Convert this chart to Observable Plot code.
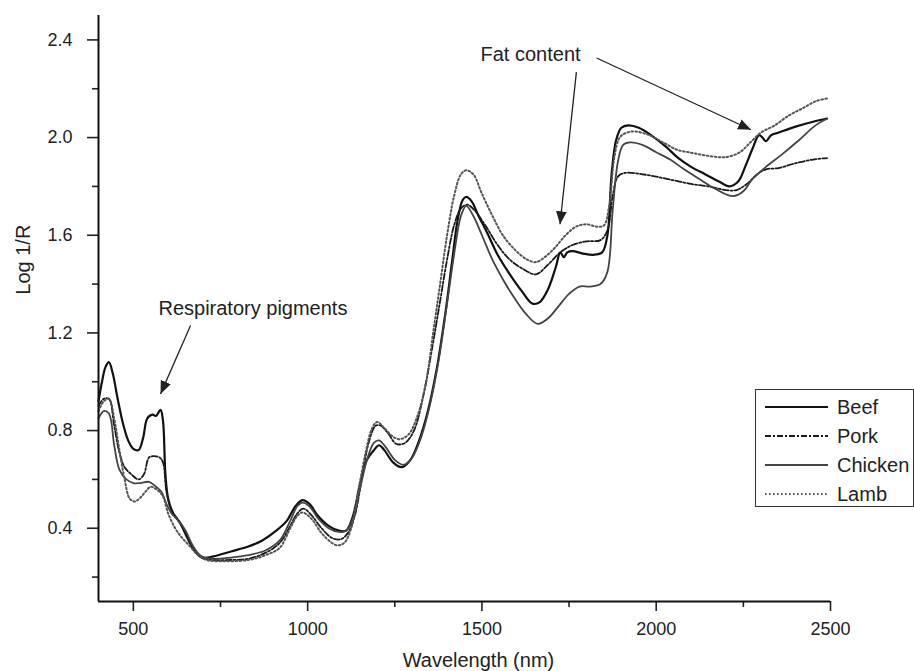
<!DOCTYPE html>
<html>
<head>
<meta charset="utf-8">
<script src="https://cdn.jsdelivr.net/npm/d3@7"></script>
<script src="https://cdn.jsdelivr.net/npm/@observablehq/plot@0.6"></script>
<style>
  body { margin: 0; background: #fff; }
  #chart { position: relative; width: 914px; height: 671px; font-family: "Liberation Sans", Arial, sans-serif; }
  #legend { position: absolute; left: 755px; top: 389px; width: 159px; height: 118px;
            border: 1px solid #333; box-sizing: border-box; background: #fff; }
  .row { position: absolute; left: 0; height: 24px; display: flex; align-items: center; }
  .row svg { margin-left: 9px; }
  .row span { margin-left: 9px; font-size: 20px; color: #222; }
</style>
</head>
<body>
<div id="chart"><div id="legend"></div></div>
<script>
// NIR spectra of four meats: [wavelength (nm), log 1/R]
const beef = [
  [400,0.92],[410,1.00],[420,1.06],[430,1.08],[440,1.04],[455,0.93],[470,0.83],[485,0.76],
  [500,0.725],[515,0.72],[528,0.77],[540,0.85],[555,0.865],[565,0.86],[578,0.885],[585,0.84],
  [592,0.62],[600,0.52],[615,0.46],[635,0.42],[655,0.36],[675,0.31],[700,0.28],[730,0.285],
  [780,0.305],[830,0.325],[870,0.35],[910,0.39],[940,0.43],[965,0.49],[985,0.515],[1005,0.50],
  [1030,0.45],[1060,0.41],[1090,0.39],[1110,0.39],[1130,0.45],[1150,0.58],[1170,0.68],[1190,0.72],
  [1205,0.74],[1220,0.72],[1245,0.67],[1270,0.65],[1295,0.68],[1320,0.76],[1345,0.88],[1370,1.05],
  [1395,1.28],[1415,1.50],[1430,1.66],[1445,1.745],[1455,1.757],[1470,1.74],[1490,1.68],[1515,1.61],
  [1545,1.52],[1580,1.44],[1615,1.37],[1645,1.32],[1665,1.325],[1690,1.38],[1712,1.47],[1725,1.53],
  [1735,1.51],[1745,1.53],[1760,1.535],[1790,1.525],[1820,1.52],[1845,1.53],[1860,1.60],[1872,1.85],
  [1885,1.99],[1900,2.04],[1920,2.05],[1950,2.04],[1990,2.005],[2030,1.96],[2060,1.92],[2100,1.88],
  [2140,1.85],[2180,1.82],[2210,1.80],[2235,1.82],[2255,1.88],[2275,1.95],[2295,2.01],[2305,2.00],
  [2315,1.985],[2330,2.01],[2350,2.02],[2400,2.045],[2450,2.065],[2490,2.078]
];
const pork = [
  [400,0.90],[415,0.93],[430,0.93],[445,0.82],[460,0.71],[475,0.65],[495,0.62],[515,0.60],
  [530,0.62],[545,0.69],[560,0.695],[575,0.69],[585,0.67],[595,0.55],[610,0.47],[630,0.43],
  [650,0.38],[670,0.32],[695,0.28],[730,0.27],[780,0.27],[830,0.275],[880,0.30],[920,0.34],
  [950,0.41],[970,0.46],[988,0.48],[1010,0.455],[1040,0.40],[1070,0.36],[1095,0.355],[1115,0.38],
  [1135,0.45],[1155,0.60],[1175,0.75],[1195,0.82],[1210,0.82],[1230,0.79],[1255,0.745],[1280,0.75],
  [1305,0.80],[1330,0.93],[1355,1.12],[1380,1.33],[1400,1.50],[1420,1.64],[1440,1.71],[1458,1.725],
  [1480,1.70],[1510,1.64],[1545,1.56],[1580,1.50],[1620,1.46],[1655,1.44],[1690,1.48],[1725,1.53],
  [1760,1.56],[1800,1.575],[1840,1.58],[1860,1.62],[1875,1.76],[1890,1.84],[1910,1.855],[1950,1.852],
  [2000,1.84],[2050,1.825],[2100,1.81],[2150,1.80],[2200,1.785],[2230,1.785],[2260,1.81],[2290,1.85],
  [2315,1.87],[2350,1.875],[2400,1.895],[2450,1.91],[2490,1.916]
];
const chicken = [
  [400,0.85],[415,0.88],[430,0.87],[445,0.74],[460,0.64],[480,0.60],[500,0.585],[520,0.585],
  [545,0.59],[565,0.57],[580,0.55],[595,0.50],[610,0.46],[630,0.43],[650,0.39],[670,0.33],
  [695,0.285],[730,0.275],[780,0.28],[830,0.29],[880,0.31],[920,0.35],[950,0.43],[970,0.49],
  [985,0.505],[1005,0.49],[1030,0.44],[1060,0.40],[1090,0.385],[1110,0.39],[1130,0.44],[1150,0.56],
  [1170,0.68],[1190,0.75],[1205,0.76],[1225,0.73],[1250,0.68],[1275,0.66],[1300,0.69],[1325,0.77],
  [1350,0.90],[1375,1.08],[1400,1.32],[1420,1.52],[1440,1.68],[1455,1.72],[1475,1.68],[1500,1.60],
  [1530,1.50],[1560,1.42],[1590,1.35],[1625,1.28],[1660,1.237],[1690,1.26],[1720,1.31],[1750,1.36],
  [1780,1.39],[1810,1.39],[1840,1.40],[1860,1.45],[1875,1.70],[1890,1.90],[1905,1.97],[1925,1.98],
  [1960,1.97],[2000,1.94],[2040,1.91],[2080,1.87],[2124,1.83],[2170,1.79],[2220,1.76],[2250,1.78],
  [2276,1.83],[2315,1.88],[2360,1.93],[2410,1.99],[2457,2.05],[2490,2.077]
];
const lamb = [
  [400,0.88],[415,0.92],[430,0.93],[445,0.85],[460,0.72],[475,0.60],[490,0.52],[505,0.51],
  [520,0.525],[535,0.55],[550,0.57],[570,0.555],[585,0.53],[600,0.46],[620,0.40],[640,0.36],
  [660,0.33],[685,0.29],[710,0.27],[760,0.265],[830,0.27],[880,0.29],[920,0.32],[950,0.40],
  [970,0.45],[985,0.465],[1010,0.44],[1040,0.38],[1065,0.345],[1085,0.33],[1105,0.34],[1125,0.40],
  [1145,0.55],[1165,0.70],[1185,0.81],[1200,0.835],[1220,0.81],[1245,0.775],[1265,0.765],[1290,0.785],
  [1315,0.86],[1340,1.00],[1360,1.20],[1380,1.40],[1400,1.60],[1420,1.76],[1440,1.85],[1455,1.866],
  [1475,1.85],[1500,1.77],[1530,1.68],[1560,1.60],[1595,1.54],[1630,1.50],[1655,1.49],[1680,1.51],
  [1710,1.55],[1740,1.60],[1770,1.635],[1800,1.645],[1830,1.635],[1850,1.64],[1865,1.72],[1880,1.92],
  [1895,2.00],[1915,2.02],[1940,2.025],[1980,2.01],[2020,1.98],[2060,1.95],[2105,1.937],[2150,1.925],
  [2200,1.92],[2240,1.94],[2270,1.98],[2300,2.02],[2340,2.05],[2380,2.09],[2420,2.12],[2460,2.15],
  [2490,2.16]
];

const meats = ["Beef", "Pork", "Chicken", "Lamb"];
const spectra = [beef, pork, chicken, lamb];

const xMajor = [500, 1000, 1500, 2000, 2500];
const xMinor = [750, 1250, 1750, 2250];
const yMajor = [0.4, 0.8, 1.2, 1.6, 2.0, 2.4];
const yMinor = [0.2, 0.6, 1.0, 1.4, 1.8, 2.2];

// annotation text and pointer arrows, in wavelength / log 1/R units
const notes = [
  {x: 572, y: 1.30, text: "Respiratory pigments"},
  {x: 1496, y: 2.338, text: "Fat content"}
];
const pointers = [
  {x1: 664, y1: 1.23, x2: 578, y2: 0.95},
  {x1: 1771, y1: 2.268, x2: 1724, y2: 1.645},
  {x1: 1829, y1: 2.326, x2: 2272, y2: 2.032}
];

// line style per meat
const styles = [
  {stroke: "#111", width: 2.2, dash: null},
  {stroke: "#1a1a1a", width: 1.8, dash: "6,2,2,2"},
  {stroke: "#444", width: 1.8, dash: null},
  {stroke: "#555", width: 2.0, dash: "1.6,2.4"}
];

const font = '"Liberation Sans", Arial, sans-serif';

const plot = Plot.plot({
  width: 914,
  height: 671,
  marginLeft: 98,
  marginRight: 84,
  marginTop: 15,
  marginBottom: 70,
  style: {fontFamily: font, fontSize: "18px", color: "#222", background: "#fff"},
  x: {domain: [400, 2500]},
  y: {domain: [0.1, 2.5]},
  marks: [
    ...spectra.map((s, i) => Plot.line(s, {
      x: d => d[0], y: d => d[1],
      stroke: styles[i].stroke, strokeWidth: styles[i].width,
      strokeDasharray: styles[i].dash, curve: "catmull-rom"
    })),
    Plot.axisX(xMajor, {tickSize: 10, tickPadding: 11, strokeWidth: 1.6, fontSize: 18, tickFormat: d3.format("d"), label: null}),
    Plot.axisX(xMinor, {tickSize: 6, text: null, strokeWidth: 1.6, label: null}),
    Plot.axisY(yMajor, {tickSize: 11, tickPadding: 15, strokeWidth: 1.6, fontSize: 18, tickFormat: d3.format(".1f"), label: null}),
    Plot.axisY(yMinor, {tickSize: 6, text: null, strokeWidth: 1.6, label: null}),
    Plot.ruleX([400], {strokeWidth: 2, stroke: "#111"}),
    Plot.ruleY([0.1], {strokeWidth: 2, stroke: "#111"}),
    Plot.text(["Wavelength (nm)"], {x: 1490, y: 0.1, dy: 59, fontSize: 20, fill: "#222"}),
    Plot.text(["Log 1/R"], {x: 400, y: 1.5, dx: -75, rotate: -90, fontSize: 20, fill: "#222"}),
    Plot.text(notes, {x: "x", y: "y", text: "text", textAnchor: "start", fontSize: 20, fill: "#222"}),
    Plot.link(pointers, {x1: "x1", y1: "y1", x2: "x2", y2: "y2", stroke: "#222", strokeWidth: 1.3})
  ]
});

// filled triangular heads on the pointer lines
const svg = d3.select(plot);
svg.append("defs").append("marker")
  .attr("id", "pointer-head")
  .attr("viewBox", "0 0 12 10")
  .attr("refX", 12).attr("refY", 5)
  .attr("markerWidth", 13).attr("markerHeight", 11)
  .attr("markerUnits", "userSpaceOnUse")
  .attr("orient", "auto")
  .append("path").attr("d", "M0,0L12,5L0,10Z").attr("fill", "#222");
svg.selectAll('g[aria-label="link"] path').attr("marker-end", "url(#pointer-head)");

const chart = document.getElementById("chart");
chart.insertBefore(plot, chart.firstChild);

// legend box
const legend = d3.select("#legend");
meats.forEach((m, i) => {
  const row = legend.append("div").attr("class", "row").style("top", `${5 + i * 29}px`);
  const sw = row.append("svg").attr("width", 63).attr("height", 10);
  sw.append("line").attr("x1", 0).attr("x2", 63).attr("y1", 5).attr("y2", 5)
    .attr("stroke", styles[i].stroke).attr("stroke-width", styles[i].width)
    .attr("stroke-dasharray", styles[i].dash);
  row.append("span").text(m);
});
</script>
</body>
</html>
